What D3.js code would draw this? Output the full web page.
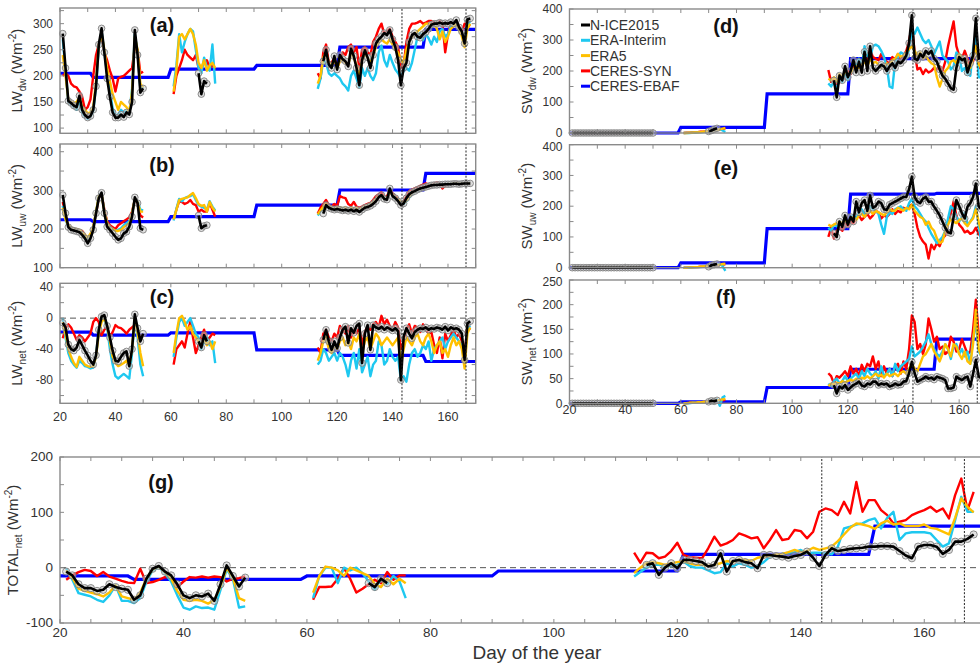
<!DOCTYPE html>
<html><head><meta charset="utf-8">
<script src="https://cdn.jsdelivr.net/npm/d3@7"></script>
<style>body{margin:0;background:#fff}svg{display:block}text{font-family:Arial,"Liberation Sans",Helvetica,sans-serif}</style>
</head><body><script>
const N = null;
// day of year of each daily entry
const DAYS = [21,22,23,24,25,26,27,28,29,30,31,32,33,34,35,36,37,38,39,40,41,42,43,44,45,46,47,48,49,50,
 61,62,63,64,65,66,67,68,69,70,71,72,73,74,75,76,
 113,114,115,116,117,118,119,120,121,122,123,124,125,126,127,128,129,130,131,132,133,134,135,136,137,138,139,140,
 141,142,143,144,145,146,147,148,149,150,151,152,153,154,155,156,157,158,159,160,161,162,163,164,165,166,167,168];
const Z30 = [0,0,0,0,0,0,0,0,0,0,0,0,0,0,0,0,0,0,0,0,0,0,0,0,0,0,0,0,0,0];
const X_TICKS = [20,40,60,80,100,120,140,160];
const EVENT_DAYS = [143.4,166.5];
const MONTH_START = [1,32,60,91,121,152], MONTH_END = [31,59,90,120,151,181];
const SERIES_NAMES = ["N-ICE2015","ERA-Interim","ERA5","CERES-SYN","CERES-EBAF"];

// (a) LW downward
const LWDW_NICE = [281,215,152,148,143,140,162,135,125,120,123,135,180,260,291,245,195,160,130,120,120,126,121,130,126,150,288,240,168,176,
 N,N,N,N,N,N,N,N,N,205,165,190,185,N,N,N,
 N,N,228,250,222,215,238,212,240,232, 228,218,252,238,215,182,230,249,235,215, 240,262,270,275,282,278,288,270,255,230, 182,215,225,265,278,282,275,273,280,284, 290,298,300,300,302,300,301,300,303,300, 307,293,285,262,308,310];
const LWDW_SYN = [200,205,200,185,180,178,170,160,135,140,155,200,240,260,275,245,230,210,195,170,195,198,200,205,210,215,255,250,205,208,
 165,200,215,230,250,240,235,230,240,215,215,225,230,215,220,212,
 205,195,245,260,225,225,235,215,230,245, 240,255,260,245,255,215,250,255,245,240, 265,275,290,300,280,285,290,275,265,255, 215,220,265,290,300,300,302,305,300,302, 305,305,302,300,305,300,245,280,300,302, 305,295,285,300,298,295];
const LWDW_ERA5 = [240,200,155,150,148,150,160,140,135,128,130,140,190,260,280,250,215,190,165,150,135,150,145,140,130,170,275,250,185,178,
 170,210,275,280,270,280,290,280,260,225,215,230,210,220,225,215,
 185,200,235,245,225,220,230,215,228,230, 225,220,245,235,220,200,230,240,235,225, 240,255,265,270,265,262,270,260,250,245, 230,225,250,265,275,280,285,290,295,300, 300,298,300,290,270,285,265,275,290,295, 300,290,275,255,290,300];
const LWDW_ERAI = [270,210,150,145,140,135,155,130,122,118,122,133,180,255,285,245,205,170,138,125,125,135,130,132,128,175,280,245,175,180,
 180,220,280,245,265,280,290,285,250,215,205,235,215,210,260,185,
 175,195,230,225,205,200,205,200,195,185, 180,172,200,210,195,178,215,200,215,200, 192,205,245,258,230,218,240,225,212,205, 195,210,215,210,225,250,275,282,268,280, 272,260,275,265,285,290,275,280,295,298, 300,290,280,265,295,305];
const LWDW_EBAF = [205,197,213,220,255,289];

// (b) LW upward
const LWUW_NICE = [288,241,205,198,196,194,192,185,176,163,176,198,241,280,294,241,206,198,189,180,172,176,189,193,206,232,282,267,202,198,
 N,N,N,N,N,N,N,N,N,235,202,208,210,N,N,N,
 N,N,240,262,255,252,250,252,250,248, 250,247,250,246,250,244,250,255,257,260, 265,272,282,288,278,276,305,285,280,272, 262,266,280,290,295,298,302,305,307,309, 311,313,314,314,315,315,316,316,316,317, 317,316,317,318,318,318];
const LWUW_SYN = [270,235,205,200,200,198,196,195,185,175,185,205,240,280,290,250,220,210,205,200,210,215,220,225,230,245,275,265,235,230,
 225,250,272,270,265,268,275,265,262,245,250,245,245,268,250,232,
 240,255,265,275,262,258,265,260,285,282, 280,265,260,270,258,255,258,262,265,268, 275,285,290,295,282,285,300,292,285,278, 268,272,285,298,302,305,308,312,315,318, 315,310,318,320,318,305,312,318,316,318, 320,318,316,318,320,318];
const LWUW_ERA5 = [255,225,210,205,200,200,198,192,185,178,188,205,245,285,290,245,215,205,200,195,195,198,205,210,215,240,278,270,245,245,
 225,250,275,278,280,282,288,293,280,265,260,262,245,270,255,245,
 238,248,258,265,258,255,255,255,256,254, 255,252,254,252,254,250,254,258,262,265, 270,276,284,288,282,280,295,288,282,276, 270,268,274,284,292,298,301,304,307,310, 312,313,315,315,315,314,316,317,317,318, 318,318,317,317,318,319];
const LWUW_ERAI = [260,225,205,200,198,196,195,190,182,172,185,202,243,285,292,245,215,205,200,195,198,202,210,215,220,240,276,272,250,248,
 222,252,278,272,280,283,285,290,275,262,258,255,250,272,258,248,
 235,245,255,262,255,252,252,250,253,250, 252,248,250,248,251,247,250,256,260,263, 268,274,283,287,280,278,298,286,280,274, 268,265,272,282,290,296,300,303,306,309, 311,313,314,316,316,315,316,318,318,318, 319,318,317,318,319,320];
const LWUW_EBAF = [224,219,232,262,301,344];

// (c) LW net
const LWNET_NICE = [-6,-12,-34,-40,-42,-38,-28,-35,-42,-48,-55,-60,-48,-15,2,4,-10,-25,-42,-55,-56,-50,-45,-43,-62,-40,5,-13,-30,-20,
 N,N,N,N,N,N,N,N,N,-30,-38,-22,-30,N,N,N,
 N,N,-28,-15,-30,-41,-30,-39,-25,-15, -11,-32,-13,-19,-10,-7,-58,-20,-9,-41, -9,-12,-14,-11,-15,-12,-14,-16,-13,-17, -80,-24,-13,-20,-26,-18,-15,-13,-14,-12, -15,-13,-14,-12,-13,-15,-11,-16,-12,-14, -13,-15,-20,-54,-7,-4];
const LWNET_SYN = [-26,-13,-8,-12,-20,-28,-22,-25,-30,-25,-20,-5,0,-5,-22,-15,-11,-24,-18,-9,-12,-13,-16,-20,-15,-12,-9,-18,-24,-22,
 -60,-40,-35,-30,-38,-20,-5,-25,-45,-35,-25,-15,-30,-25,-20,-22,
 -38,-45,-20,-15,-25,-30,-20,-25,-10,-15, -20,-10,-25,-15,-20,-12,-35,-18,-10,-15, -8,-5,-12,3,-8,-2,-10,-15,-5,-12, -40,-30,-15,-8,-20,-10,-12,-18,-8,-15, -20,-18,-35,-45,-25,-52,-20,-30,-22,-15, -25,-20,-30,-50,-10,-15];
const LWNET_ERA5 = [-5,-20,-40,-50,-58,-63,-50,-55,-60,-62,-63,-62,-50,-20,-5,0,-10,-30,-50,-58,-62,-60,-58,-55,-62,-40,0,-20,-45,-62,
 -45,-20,0,3,-5,-15,-10,-20,-25,-30,-35,-25,-35,-30,-40,-30,
 -55,-45,-30,-25,-40,-45,-35,-40,-30,-25, -35,-30,-40,-25,-30,-20,-45,-30,-25,-40, -30,-20,-25,-35,-30,-25,-30,-35,-30,-25, -60,-40,-25,-30,-35,-25,-20,-30,-35,-25, -20,-30,-45,-35,-30,-45,-40,-50,-35,-25, -35,-30,-40,-65,-20,-12];
const LWNET_ERAI = [0,-25,-45,-55,-60,-64,-55,-58,-62,-63,-65,-64,-48,-15,0,-2,-12,-40,-60,-75,-78,-75,-72,-75,-78,-45,0,-25,-60,-75,
 -50,-25,-5,0,-10,-5,0,-10,-20,-25,-40,-30,-25,-35,-30,-58,
 -60,-55,-40,-45,-55,-50,-45,-55,-45,-50, -60,-75,-55,-45,-65,-40,-70,-60,-50,-75, -60,-55,-30,-35,-60,-55,-40,-50,-55,-50, -80,-75,-82,-60,-45,-40,-50,-45,-35,-40, -30,-55,-40,-35,-30,-25,-40,-30,-25,-20, -25,-30,-35,-60,-15,-10];
const LWNET_EBAF = [-18,-22,-19,-41,-48,-56];

// (d) SW downward
const SWDW_NICE = Z30.concat([N,N,N,N,N,N,N,N,N,5,8,12,15,N,N,N,
 N,N,170,115,185,170,215,180,200,235, 195,230,195,262,200,280,210,200,210,220, 215,200,215,225,210,230,225,235,250,290, 380,240,235,255,245,265,255,265,240,230, 205,185,175,160,145,140,210,245,235,240, 195,225,250,370,240,260]);
const SWDW_SYN = Z30.concat([0,1,1,2,2,3,4,4,5,6,8,9,11,12,13,15,
 203,165,170,150,165,185,175,200,190,215, 200,225,215,245,230,270,245,240,235,255, 240,230,225,245,235,255,240,250,265,295, 350,260,205,210,190,205,195,200,210,205, 215,200,230,280,320,360,280,250,240,265, 240,215,230,300,215,205]);
const SWDW_ERA5 = Z30.concat([0,0,1,1,2,2,3,4,5,6,7,8,10,12,14,16,
 175,170,180,165,190,180,200,190,195,205, 215,210,220,230,215,240,225,230,220,210, 215,225,220,235,240,255,245,250,260,270, 280,265,250,260,240,250,235,225,220,180, 150,175,200,210,230,235,225,255,245,240, 220,210,240,280,220,210]);
const SWDW_ERAI = Z30.concat([0,0,0,1,1,2,2,3,4,5,7,9,10,13,8,3,
 160,150,165,140,175,165,190,170,200,230, 215,240,210,280,250,240,280,285,280,265, 245,215,150,145,230,245,260,255,240,270, 330,320,340,320,300,290,300,280,255,275, 295,250,240,230,205,215,260,250,200,210, 190,185,270,320,180,180]);
const SWDW_EBAF = [0,0,18,126,240,240];

// (e) SW upward
const SWUW_NICE = Z30.concat([N,N,N,N,N,N,N,N,N,3,8,10,12,N,N,N,
 N,N,112,100,150,133,170,140,165,150, 215,180,210,220,185,235,195,200,215,210, 190,188,205,210,215,220,225,230,230,255, 296,230,215,210,225,230,215,215,198,185, 170,150,130,115,112,165,220,200,177,160, 198,210,230,274,200,190]);
const SWUW_SYN = Z30.concat([0,0,1,1,2,2,3,3,4,5,6,7,8,9,10,11,
 100,130,95,120,130,120,145,135,150,145, 160,170,155,165,175,160,170,185,180,160, 170,165,175,190,175,185,180,195,190,200, 205,175,130,100,85,75,30,75,60,80, 70,95,105,150,175,215,170,140,130,115, 120,110,115,130,110,100]);
const SWUW_ERA5 = Z30.concat([0,0,1,1,2,2,3,4,5,6,7,8,9,10,12,13,
 140,135,140,145,150,145,155,150,160,165, 155,170,175,165,180,185,175,185,180,175, 170,180,190,185,185,195,190,185,195,190, 205,185,175,165,160,140,150,130,120,95, 80,85,120,140,160,150,145,155,160,145, 135,150,160,190,150,115]);
const SWUW_ERAI = Z30.concat([0,0,0,1,1,2,2,3,4,5,6,8,10,12,5,-10,
 130,120,140,135,150,140,160,145,165,170, 160,180,190,175,185,200,190,185,175,140, 110,165,180,175,190,195,200,190,185,210, 225,200,190,175,160,150,130,110,95,80, 90,100,120,160,200,190,165,150,165,180, 140,150,165,200,140,80]);
const SWUW_EBAF = [0,0,16,127,239,242];

// (f) SW net
const SWNET_NICE = Z30.concat([N,N,N,N,N,N,N,N,N,3,5,4,6,N,N,N,
 N,N,37,20,34,30,37,27,32,37, 40,44,36,34,40,38,44,44,37,40, 38,40,34,36,40,37,38,44,45,61, 84,61,44,47,50,54,50,52,48,54, 52,50,47,30,30,32,54,50,47,52, 54,34,60,88,55,50]);
const SWNET_SYN = Z30.concat([0,0,1,1,1,2,2,2,3,3,4,4,5,6,6,7,
 61,55,40,55,52,58,65,55,75,60, 70,55,78,65,80,75,95,70,85,55, 75,60,70,55,75,80,60,85,70,110, 178,165,110,120,100,120,172,150,125,135, 110,115,100,105,135,125,105,110,130,115, 100,105,150,210,140,120]);
const SWNET_ERA5 = Z30.concat([0,0,1,1,1,2,2,3,3,4,4,5,6,7,8,9,
 35,40,38,42,40,45,42,45,48,45, 50,48,52,50,55,50,55,60,55,58, 52,60,55,58,60,55,62,65,60,70, 80,70,65,80,95,100,110,120,105,95, 85,100,120,110,95,120,115,100,90,105, 85,80,120,190,110,95]);
const SWNET_ERAI = Z30.concat([0,0,0,1,1,1,2,2,3,4,5,6,8,-5,12,15,
 40,35,45,50,40,45,55,45,50,55, 60,50,65,55,70,60,55,65,50,75, 55,60,70,55,80,65,75,80,85,90, 115,95,100,105,115,125,140,120,110,100, 95,105,120,110,90,115,120,100,110,95, 105,80,130,165,105,95]);
const SWNET_EBAF = [0,0,3,32,69,130];

// (g) total net
const TOT_NICE = [-7,-14,-30,-37,-37,-42,-40,-30,-35,-38,-40,-58,-50,-20,-2,3,-7,-14,-30,-50,-55,-50,-52,-47,-60,-30,4,-15,-34,-18,
 N,N,N,N,N,N,N,N,N,-28,-35,-20,-28,N,N,N,
 N,N,5,8,-13,0,8,-1,14,14, 12,10,2,5,26,-7,12,14,10,8, -1,23,23,21,20,18,21,23,29,18, 3,23,35,30,32,34,35,36,38,38, 39,39,38,30,22,17,38,41,41,38, 25,32,47,47,52,60];
const TOT_SYN = [-22,-14,-8,-4,-6,-15,-8,-16,-20,-24,-27,-28,-2,-28,-26,-22,-17,-19,-35,-25,-17,-18,-16,-18,-16,-17,-25,-20,-19,-16,
 -58,-35,-35,-34,-20,-1,-20,-45,-38,-30,-22,-28,-8,-22,-14,-14,
 27,9,27,26,17,20,30,45,23,19, 18,17,35,56,40,44,50,62,58,53, 55,35,50,68,50,52,68,66,53,65, 101,107,104,95,119,98,155,101,122,122, 104,95,80,83,86,95,100,104,110,101, 107,89,131,161,104,137];
const TOT_ERA5 = [-5,-18,-38,-42,-45,-48,-52,-45,-32,-52,-55,-58,-45,-20,-3,2,-8,-20,-42,-58,-60,-58,-60,-65,-58,-35,0,-18,-55,-60,
 -45,-15,2,0,-5,-15,0,-5,-10,-15,-30,-35,-20,-30,-20,-28,
 -10,0,8,10,8,5,8,10,12,8, 5,5,3,5,8,12,10,15,14,12, 18,20,22,24,25,28,32,28,30,36, 32,35,38,48,60,72,80,78,75,70, 80,85,78,80,75,75,75,78,72,70, 65,60,90,125,110,100];
const TOT_ERAI = [-1,-22,-46,-49,-52,-58,-62,-50,-32,-60,-60,-64,-55,-25,-5,1,-10,-25,-50,-72,-76,-70,-73,-72,-76,-40,-3,-20,-72,-70,
 -55,-15,0,0,-28,0,-5,0,-10,-25,-40,-20,-30,-15,-25,-55,
 -16,-8,0,5,5,3,3,5,11,3, 0,0,-5,-10,-8,8,2,8,5,0, 3,10,20,22,25,27,28,32,26,27, 27,26,24,38,71,74,78,80,86,89, 71,90,101,50,62,64,64,64,62,50, 38,44,86,128,101,101];
const TOT_EBAF = [-15,-21,-15,-6,24,75];

const COLORS = {nice:"#000000", erai:"#1EC8F0", era5:"#FFC000", syn:"#FF0000", ebaf:"#0000FF"};

// layout
const PANELS = [
 {lab:"(a)", x:[60,475.7], y:[133.3,8], dom:[90,330], yt:[100,150,200,250,300], ym:25, t:["LW","dw"], tx:22, lx:162, ly:32, xl:null, xt:10, zero:false,
  d:{nice:LWDW_NICE, syn:LWDW_SYN, era5:LWDW_ERA5, erai:LWDW_ERAI, ebaf:LWDW_EBAF}},
 {lab:"(b)", x:[60,475.7], y:[267.7,144], dom:[100,420], yt:[100,200,300,400], ym:50, t:["LW","uw"], tx:22, lx:162, ly:172, xl:null, xt:10, zero:false,
  d:{nice:LWUW_NICE, syn:LWUW_SYN, era5:LWUW_ERA5, erai:LWUW_ERAI, ebaf:LWUW_EBAF}},
 {lab:"(c)", x:[60,475.7], y:[403.3,283.3], dom:[-110,45], yt:[-80,-40,0,40], ym:20, t:["LW","net"], tx:22, lx:162, ly:304, xl:421, xt:10, zero:true,
  d:{nice:LWNET_NICE, syn:LWNET_SYN, era5:LWNET_ERA5, erai:LWNET_ERAI, ebaf:LWNET_EBAF}},
 {lab:"(d)", x:[569.5,987], y:[133,9], dom:[0,400], yt:[0,100,200,300,400], ym:50, t:["SW","dw"], tx:532, lx:726, ly:33, xl:null, xt:10, zero:false, legend:true,
  d:{nice:SWDW_NICE, syn:SWDW_SYN, era5:SWDW_ERA5, erai:SWDW_ERAI, ebaf:SWDW_EBAF}},
 {lab:"(e)", x:[569.5,987], y:[267.7,144.7], dom:[0,400], yt:[0,100,200,300,400], ym:50, t:["SW","uw"], tx:532, lx:726, ly:175, xl:null, xt:10, zero:false, topShift:2.5,
  d:{nice:SWUW_NICE, syn:SWUW_SYN, era5:SWUW_ERA5, erai:SWUW_ERAI, ebaf:SWUW_EBAF}},
 {lab:"(f)", x:[569.5,987], y:[403.3,280], dom:[0,250], yt:[0,50,100,150,200,250], ym:25, t:["SW","net"], tx:532, lx:726, ly:304, xl:414, xt:10, zero:false, topShift:1.5,
  d:{nice:SWNET_NICE, syn:SWNET_SYN, era5:SWNET_ERA5, erai:SWNET_ERAI, ebaf:SWNET_EBAF}},
 {lab:"(g)", x:[60,986], y:[623,457], dom:[-100,200], yt:[-100,0,100,200], ym:50, t:["TOTAL","net"], tx:18, lx:161, ly:489, xl:636.5, xt:5, zero:true, big:true,
  d:{nice:TOT_NICE, syn:TOT_SYN, era5:TOT_ERA5, erai:TOT_ERAI, ebaf:TOT_EBAF}}
];

const svg = d3.select("body").append("svg").attr("width",980).attr("height",664);

function runs(vals){
  const out=[]; let cur=null;
  vals.forEach((v,i)=>{
    if(v==null){cur=null;return;}
    if(cur && i>0 && vals[i-1]!=null && DAYS[i]-DAYS[i-1]===1) cur.push([DAYS[i],v]);
    else {cur=[[DAYS[i],v]]; out.push(cur);}
  });
  return out;
}
function ebafPts(vals,lo,hi){
  const p=[];
  vals.forEach((v,i)=>{p.push([Math.max(MONTH_START[i],lo),v]); p.push([Math.min(MONTH_END[i],hi),v]);});
  return p;
}

PANELS.forEach(P=>{
  const g = svg.append("g");
  const x = d3.scaleLinear().domain([20,170]).range(P.x);
  const y = d3.scaleLinear().domain(P.dom).range(P.y);
  const line = d3.line().x(d=>x(d[0])).y(d=>y(d[1]));
  const tickCol = "#8a8a8a";

  if(P.zero){
    g.append("line").attr("x1",P.x[0]).attr("x2",P.x[1]).attr("y1",y(0)).attr("y2",y(0))
     .attr("stroke","#555").attr("stroke-width",1).attr("stroke-dasharray","6,4");
  }
  // EBAF monthly steps
  g.append("path").attr("d",line(ebafPts(P.d.ebaf,20,170))).attr("fill","none")
   .attr("stroke",COLORS.ebaf).attr("stroke-width",3.2);
  // daily series
  [["syn",2.4],["erai",2.4],["era5",2.4]].forEach(([k,w])=>{
    runs(P.d[k]).forEach(r=>{
      g.append("path").attr("d",line(r)).attr("fill","none").attr("stroke",COLORS[k])
       .attr("stroke-width",w).attr("stroke-linejoin","round");
    });
  });
  // N-ICE2015 circles + line
  const pts = [];
  P.d.nice.forEach((v,i)=>{ if(v!=null) pts.push([DAYS[i],v]); });
  g.selectAll("circle.o").data(pts).enter().append("circle")
   .attr("cx",d=>x(d[0])).attr("cy",d=>y(d[1])).attr("r",P.big?3.6:3.3)
   .attr("fill","rgba(200,200,200,0.55)").attr("stroke","#808080").attr("stroke-width",0.9);
  runs(P.d.nice).forEach(r=>{
    g.append("path").attr("d",line(r)).attr("fill","none").attr("stroke",COLORS.nice)
     .attr("stroke-width",2.6).attr("stroke-linejoin","round");
  });
  // event lines
  EVENT_DAYS.forEach(ev=>{
    g.append("line").attr("x1",x(ev)).attr("x2",x(ev)).attr("y1",P.y[0]).attr("y2",P.y[1])
     .attr("stroke","#222").attr("stroke-width",1).attr("stroke-dasharray","2,1.6");
  });
  // frame
  g.append("rect").attr("x",P.x[0]).attr("y",P.y[1]).attr("width",P.x[1]-P.x[0]).attr("height",P.y[0]-P.y[1])
   .attr("fill","none").attr("stroke",tickCol).attr("stroke-width",1.4);
  // x ticks
  for(let dd=20; dd<=170; dd+=P.xt){
    const xx=x(dd);
    g.append("line").attr("x1",xx).attr("x2",xx).attr("y1",P.y[0]).attr("y2",P.y[0]-4).attr("stroke",tickCol);
    g.append("line").attr("x1",xx).attr("x2",xx).attr("y1",P.y[1]).attr("y2",P.y[1]+4).attr("stroke",tickCol);
  }
  if(P.xl){
    X_TICKS.forEach(t=>{
      g.append("text").attr("x",x(t)).attr("y",P.xl).attr("text-anchor","middle")
       .style("font-size",(P.big?13.5:12.5)+"px").attr("fill","#333").text(t);
    });
  }
  // y ticks
  for(let v=P.dom[0]; v<=P.dom[1]+0.001; v+=1){
    if(((v % P.ym)+P.ym)%P.ym!==0) continue;
    const yy=y(v);
    g.append("line").attr("x1",P.x[0]).attr("x2",P.x[0]+4).attr("y1",yy).attr("y2",yy).attr("stroke",tickCol);
    g.append("line").attr("x1",P.x[1]).attr("x2",P.x[1]-4).attr("y1",yy).attr("y2",yy).attr("stroke",tickCol);
  }
  P.yt.forEach(t=>{
    const shift = (t===P.dom[1] && P.topShift) ? P.topShift : 0;
    g.append("text").attr("x",P.x[0]-7).attr("y",y(t)+4.2+shift).attr("text-anchor","end")
     .style("font-size",(P.big?13.5:12)+"px").attr("fill","#333").text(t);
  });
  // panel letter
  g.append("text").attr("x",P.lx).attr("y",P.ly).attr("text-anchor","middle")
   .style("font-size","20px").style("font-weight","bold").attr("fill","#111").text(P.lab);
  // y title
  const cy=(P.y[0]+P.y[1])/2;
  const tt=g.append("text").attr("transform",`translate(${P.tx},${cy}) rotate(-90)`)
   .attr("text-anchor","middle").style("font-size","15px").attr("fill","#333");
  tt.append("tspan").text(P.t[0]);
  tt.append("tspan").attr("dy",4).style("font-size","10px").text(P.t[1]);
  tt.append("tspan").attr("dy",-4).text(" (Wm");
  tt.append("tspan").attr("dy",-6).style("font-size","10px").text("-2");
  tt.append("tspan").attr("dy",6).text(")");

  if(P.legend){
    const keys=["nice","erai","era5","syn","ebaf"];
    keys.forEach((k,i)=>{
      const ly=25+i*15.3;
      g.append("line").attr("x1",581).attr("x2",590).attr("y1",ly).attr("y2",ly)
       .attr("stroke",COLORS[k]).attr("stroke-width",3);
      g.append("text").attr("x",590).attr("y",ly+5).style("font-size","14px").attr("fill","#333").text(SERIES_NAMES[i]);
    });
  }
});

svg.append("text").attr("x",537).attr("y",658.5).attr("text-anchor","middle")
  .style("font-size","19px").attr("fill","#333").text("Day of the year");
</script></body></html>
